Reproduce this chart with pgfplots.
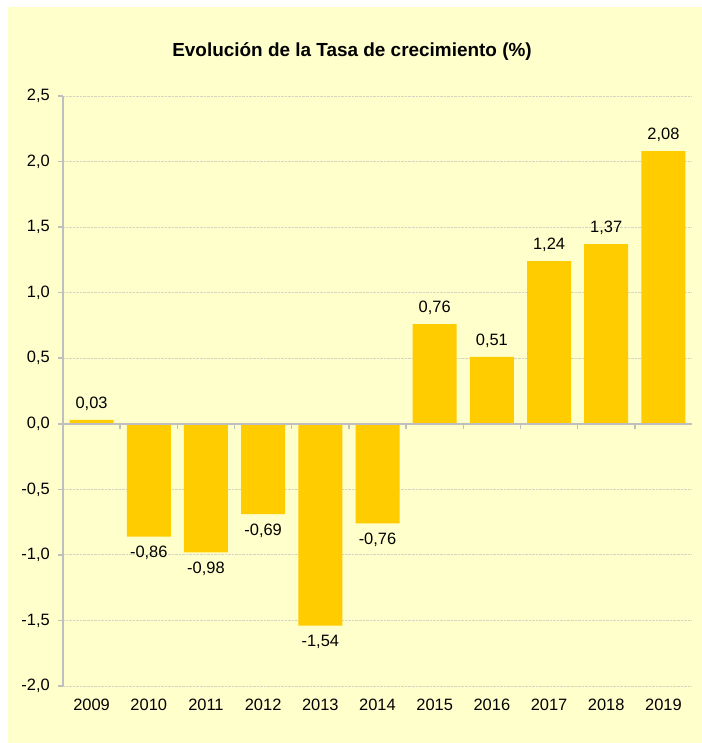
\documentclass[border=0pt]{standalone}
\usepackage{fontspec}
\setmainfont{Liberation Sans}
\usepackage{pgfplots}
\pgfplotsset{compat=1.18}

\definecolor{bgyellow}{HTML}{FFFFCC}
\definecolor{baryellow}{HTML}{FFCC00}
\definecolor{axisgray}{HTML}{BFBFBF}
\definecolor{gridgray}{HTML}{D4D4C0}

\begin{document}
\begin{tikzpicture}
% page and chart background
\fill[white] (-63bp,-57bp) rectangle (639bp,686bp);
\fill[bgyellow] (-55bp,-57bp) rectangle (639bp,679bp);
\begin{axis}[
    at={(0,0)}, anchor=south west,
    scale only axis,
    width=629bp, height=590bp,
    ybar, bar width=44bp, bar shift=0pt,
    xmin=-0.5, xmax=10.5,
    ymin=-2, ymax=2.5,
    axis x line*=bottom,
    axis y line*=left,
    x axis line style={draw=none},
    y axis line style={axisgray, line width=2.5bp, -},
    xtick={0,1,2,3,4,5,6,7,8,9,10},
    xticklabels={2009,2010,2011,2012,2013,2014,2015,2016,2017,2018,2019},
    xtick style={draw=none},
    ytick={-2,-1.5,-1,-0.5,0,0.5,1,1.5,2,2.5},
    ytick style={axisgray, line width=1.5bp},
    tick align=outside,
    major tick length=5bp,
    ymajorgrids,
    grid style={densely dotted, gridgray, line width=0.8bp},
    /pgf/number format/.cd, use comma, fixed, fixed zerofill, precision=1, 1000 sep={},
    assume math mode=true,
    /pgfplots/.cd,
    ticklabel style={font=\fontsize{16.5}{19}\selectfont, inner sep=0pt},
    yticklabel style={xshift=-8bp},
    xticklabel style={yshift=-8bp},
    nodes near coords={\pgfmathprintnumber[fixed, fixed zerofill, precision=2, use comma]{\pgfplotspointmeta}},
    every node near coord/.append style={font=\fontsize{16.5}{19}\selectfont, black, inner sep=9.5bp},
]
\addplot[fill=baryellow, draw=none] coordinates {
    (0,0.03) (1,-0.86) (2,-0.98) (3,-0.69) (4,-1.54) (5,-0.76)
    (6,0.76) (7,0.51) (8,1.24) (9,1.37) (10,2.08)
};
% zero line with category separators
\draw[axisgray, line width=2.5bp] (axis cs:-0.5,0) -- (axis cs:10.5,0);
\pgfplotsinvokeforeach{0.5,1.5,2.5,3.5,4.5,5.5,6.5,7.5,8.5,9.5}{
    \draw[axisgray, line width=1.5bp] (axis cs:#1,0) -- ([yshift=-5bp]axis cs:#1,0);
}
\end{axis}
\node[font=\bfseries\fontsize{19}{23}\selectfont] at (289bp,634bp) {Evolución de la Tasa de crecimiento (\%)};
\pgfresetboundingbox
\useasboundingbox (-63bp,-57bp) rectangle (639bp,686bp);
\end{tikzpicture}
\end{document}
